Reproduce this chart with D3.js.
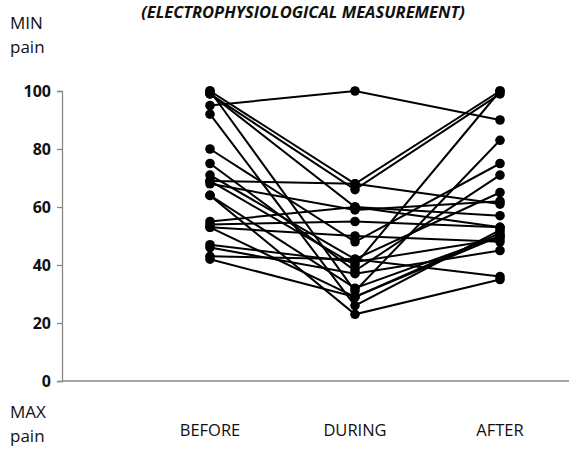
<html>
<head>
<script src="https://cdnjs.cloudflare.com/ajax/libs/d3/7.8.5/d3.min.js"></script>
<style>
  body { margin: 0; background: #fff; }
  text { font-family: "Open Sans", "Liberation Sans", sans-serif; }
</style>
</head>
<body>
<script>
var width = 569,
    height = 449;

var phases = ["BEFORE", "DURING", "AFTER"];
var yTicks = [0, 20, 40, 60, 80, 100];

// one value per subject and phase
var before = [95, 100, 99, 100, 92, 80, 75, 71, 69, 68, 64, 55, 54, 53, 47, 46, 43, 42, 64, 69, 53, 99];
var during = [100, 68, 66, 31, 26, 48, 38, 42, 68, 59, 32, 60, 55, 50, 41, 37, 42, 29, 23, 40, 29, 60];
var after  = [90, 100, 99, 83, 52, 75, 71, 65, 61, 62, 50, 57, 53, 48, 49, 45, 36, 51, 35, 100, 50, 53];

var subjects = before.map(function(b, i) {
  return [b, during[i], after[i]];
});

var svg = d3.select("body").append("svg")
    .attr("width", width)
    .attr("height", height);

var x = d3.scalePoint().domain(phases).range([210, 500]);
var y = d3.scaleLinear().domain([0, 100]).range([381, 91]);

// axes
var yAxis = svg.append("g")
    .attr("transform", "translate(62,0)")
    .call(d3.axisLeft(y).tickValues(yTicks).tickSize(5).tickPadding(6));
yAxis.select(".domain").attr("stroke", "#888").attr("stroke-width", 1.3);
yAxis.selectAll(".tick line").attr("stroke", "#888").attr("stroke-width", 1.3);
yAxis.selectAll(".tick text")
    .attr("font-size", 16)
    .attr("font-weight", "bold")
    .attr("fill", "#111")
    .style("font-family", "'Open Sans', sans-serif");

svg.append("line")
    .attr("x1", 62).attr("x2", width)
    .attr("y1", y(0)).attr("y2", y(0))
    .attr("stroke", "#888").attr("stroke-width", 1.3);

// category labels
svg.selectAll(".cat").data(phases).enter().append("text")
    .attr("class", "cat")
    .attr("x", function(d) { return x(d); })
    .attr("y", 436)
    .attr("text-anchor", "middle")
    .attr("font-size", 16.5)
    .attr("fill", "#111")
    .text(function(d) { return d; });

// subject lines
var line = d3.line()
    .x(function(d, i) { return x(phases[i]); })
    .y(function(d) { return y(d); });

svg.selectAll(".subj").data(subjects).enter().append("path")
    .attr("class", "subj")
    .attr("d", line)
    .attr("fill", "none")
    .attr("stroke", "#000")
    .attr("stroke-width", 2);

var dots = [];
subjects.forEach(function(s) {
  s.forEach(function(v, i) { dots.push({ p: phases[i], v: v }); });
});

svg.selectAll(".dot").data(dots).enter().append("circle")
    .attr("class", "dot")
    .attr("cx", function(d) { return x(d.p); })
    .attr("cy", function(d) { return y(d.v); })
    .attr("r", 4.8)
    .attr("fill", "#000");

// side labels
var side = [["MIN", 29], ["pain", 53], ["MAX", 418], ["pain", 442]];
svg.selectAll(".side").data(side).enter().append("text")
    .attr("class", "side")
    .attr("x", 10)
    .attr("y", function(d) { return d[1]; })
    .attr("font-size", 17)
    .attr("fill", "#111")
    .text(function(d) { return d[0]; });

// title
svg.append("text")
    .attr("x", 303)
    .attr("y", 18)
    .attr("text-anchor", "middle")
    .attr("font-size", 16.5)
    .attr("font-weight", "bold")
    .attr("font-style", "italic")
    .attr("fill", "#111")
    .text("(ELECTROPHYSIOLOGICAL MEASUREMENT)");
</script>
</body>
</html>
